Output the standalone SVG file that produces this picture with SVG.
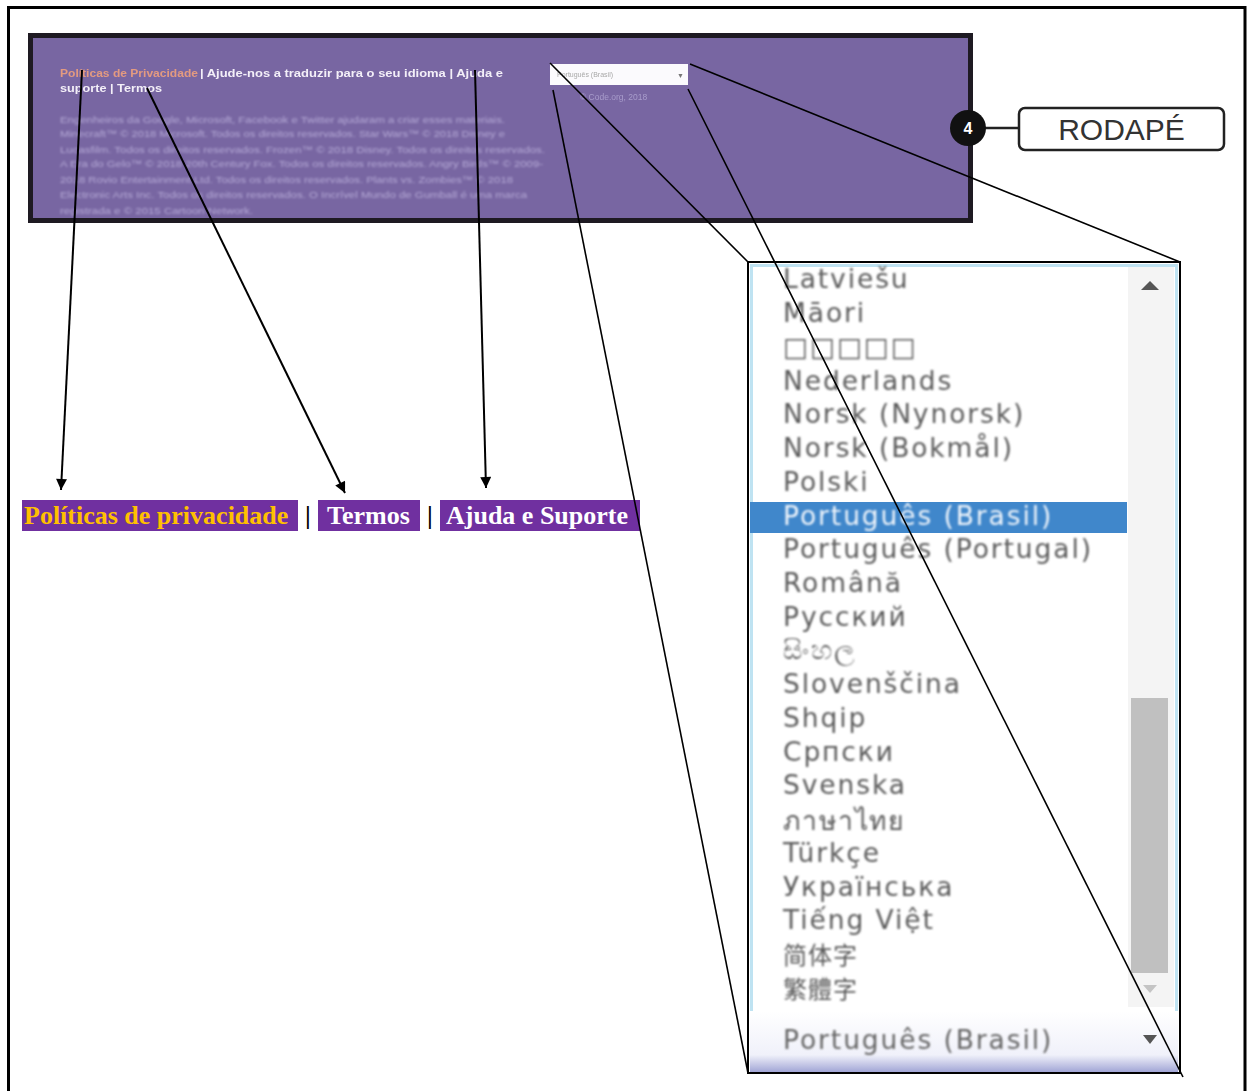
<svg xmlns="http://www.w3.org/2000/svg" width="1249" height="1091" viewBox="0 0 1249 1091">
  <style>
    .sans { font-family: "Liberation Sans", Arial, sans-serif; }
    .serif { font-family: "Liberation Serif", "Times New Roman", serif; font-weight: bold; }
    .hdr { font-size: 10.5px; font-weight: bold; fill: #f3eff8; }
    .para { font-size: 9.5px; fill: #b5a9d6; }
    .item { font-family: "DejaVu Sans", "Noto Sans", "Noto Sans CJK SC", sans-serif; font-size: 26.5px; letter-spacing: 1.9px; fill: #5b5b5b; }
    .cjk { font-size: 24px; letter-spacing: 1px; }
    .legend-bg { fill: #7030a0; }
    .legend-txt { font-size: 26px; fill: #ffffff; }
    .conn { stroke: #000; stroke-width: 1.6; fill: none; }
    .arrow { stroke: #000; stroke-width: 2; fill: none; marker-end: url(#arrowhead); }
  </style>
  <defs>
    <marker id="arrowhead" viewBox="0 0 10 10" refX="10" refY="5" markerWidth="7.5" markerHeight="5.5" orient="auto" markerUnits="strokeWidth">
      <path d="M0,0 L10,5 L0,10 z" fill="#000"/>
    </marker>
    <filter id="soft" x="-5%" y="-5%" width="110%" height="110%">
      <feGaussianBlur stdDeviation="0.6"/>
    </filter>
    <filter id="softer" x="-5%" y="-5%" width="110%" height="110%">
      <feGaussianBlur stdDeviation="0.8"/>
    </filter>
    <linearGradient id="selectFoot" x1="0" y1="0" x2="0" y2="1">
      <stop offset="0" stop-color="#ffffff"/>
      <stop offset="0.72" stop-color="#f0f1fa"/>
      <stop offset="1" stop-color="#a2a6d6"/>
    </linearGradient>
  </defs>

  <!-- page frame -->
  <path d="M8.5,1091 V7.5 H1245 V1091" fill="none" stroke="#000" stroke-width="3"/>

  <!-- site footer screenshot -->
  <g id="footer-panel">
    <rect x="30.5" y="35.5" width="940" height="185" fill="#7866a2" stroke="#1e1a22" stroke-width="5"/>
    <g class="sans" filter="url(#soft)">
      <text x="60" y="77" class="hdr" style="fill:#e39a80" textLength="138" lengthAdjust="spacingAndGlyphs">Políticas de Privacidade</text>
      <text x="200" y="77" class="hdr" textLength="303" lengthAdjust="spacingAndGlyphs"> | Ajude-nos a traduzir para o seu idioma | Ajuda e</text>
      <text x="60" y="92" class="hdr" textLength="102" lengthAdjust="spacingAndGlyphs">suporte | Termos</text>
    </g>
    <g class="sans" filter="url(#softer)">
      <text x="60" y="123" class="para" textLength="445" lengthAdjust="spacingAndGlyphs">Engenheiros da Google, Microsoft, Facebook e Twitter ajudaram a criar esses materiais.</text>
      <text x="60" y="137" class="para" textLength="445" lengthAdjust="spacingAndGlyphs">Minecraft™ © 2018 Microsoft. Todos os direitos reservados. Star Wars™ © 2018 Disney e</text>
      <text x="60" y="153" class="para" textLength="485" lengthAdjust="spacingAndGlyphs">Lucasfilm. Todos os direitos reservados. Frozen™ © 2018 Disney. Todos os direitos reservados.</text>
      <text x="60" y="167" class="para" textLength="483" lengthAdjust="spacingAndGlyphs">A Era do Gelo™ © 2018 20th Century Fox. Todos os direitos reservados. Angry Birds™ © 2009-</text>
      <text x="60" y="183" class="para" textLength="453" lengthAdjust="spacingAndGlyphs">2018 Rovio Entertainment Ltd. Todos os direitos reservados. Plants vs. Zombies™ © 2018</text>
      <text x="60" y="198" class="para" textLength="467" lengthAdjust="spacingAndGlyphs">Electronic Arts Inc. Todos os direitos reservados. O Incrível Mundo de Gumball é uma marca</text>
      <text x="60" y="214" class="para" textLength="193" lengthAdjust="spacingAndGlyphs">registrada e © 2015 Cartoon Network.</text>
    </g>
  </g>

  <!-- compact language selector inside the footer -->
  <g id="lang-select-small" class="sans" filter="url(#soft)">
    <rect x="550" y="64" width="138" height="21" fill="#fbfafd"/>
    <text x="557" y="77" font-size="7" fill="#a8a8a8">Português (Brasil)</text>
    <text x="677" y="78" font-size="7" fill="#777">▼</text>
    <text x="580" y="100" font-size="8.5" fill="#a89ccb">© Code.org, 2018</text>
  </g>

  <!-- numbered callout -->
  <g id="badge-4">
    <line x1="985" y1="128" x2="1019" y2="128" stroke="#222" stroke-width="2.5"/>
    <circle cx="968" cy="128" r="18" fill="#111"/>
    <text x="968" y="134" text-anchor="middle" class="sans" font-size="16" font-weight="bold" fill="#fff">4</text>
  </g>
  <g id="rodape-label">
    <rect x="1019" y="108" width="205" height="42" rx="6" fill="#fff" stroke="#222" stroke-width="2.5"/>
    <text x="1121.5" y="140" text-anchor="middle" class="sans" font-size="30" fill="#333">RODAPÉ</text>
  </g>

  <!-- expanded language list -->
  <g id="lang-list">
    <rect x="749" y="263" width="430" height="810" fill="#fff"/>
    <rect x="751.5" y="265.5" width="425" height="805" fill="none" stroke="#bfe3f2" stroke-width="3"/>
    <!-- scrollbar -->
    <rect x="1128" y="267" width="46" height="740" fill="#f4f4f4"/>
    <rect x="1131" y="698" width="37" height="275" fill="#c0c0c0" filter="url(#soft)"/>
    <path d="M1141,290 L1150,281 L1159,290 z" fill="#555" filter="url(#soft)"/>
    <path d="M1143,985 L1150,993 L1157,985 z" fill="#c4c4c4" filter="url(#soft)"/>
    <!-- selected row -->
    <rect x="750" y="502" width="377" height="31" fill="#3f87cb" filter="url(#soft)"/>
    <g filter="url(#softer)">
      <text x="783" y="288" class="item">Latviešu</text>
      <text x="783" y="322" class="item">Māori</text>
      <text x="783" y="356" class="item" font-size="22">□□□□□</text>
      <text x="783" y="390" class="item">Nederlands</text>
      <text x="783" y="423" class="item">Norsk (Nynorsk)</text>
      <text x="783" y="457" class="item">Norsk (Bokmål)</text>
      <text x="783" y="491" class="item">Polski</text>
      <text x="783" y="525" class="item" style="fill:#eef4fb">Português (Brasil)</text>
      <text x="783" y="558" class="item">Português (Portugal)</text>
      <text x="783" y="592" class="item">Română</text>
      <text x="783" y="626" class="item">Русский</text>
      <text x="783" y="659" class="item" font-size="20">සිංහල</text>
      <text x="783" y="693" class="item">Slovenščina</text>
      <text x="783" y="727" class="item">Shqip</text>
      <text x="783" y="761" class="item">Српски</text>
      <text x="783" y="794" class="item">Svenska</text>
      <text x="783" y="830" class="item">ภาษาไทย</text>
      <text x="783" y="862" class="item">Türkçe</text>
      <text x="783" y="896" class="item">Українська</text>
      <text x="783" y="929" class="item">Tiếng Việt</text>
      <text x="783" y="964" class="item cjk" style="font-family:'Noto Sans CJK SC', sans-serif">简体字</text>
      <text x="783" y="998" class="item cjk" style="font-family:'Noto Sans CJK TC', sans-serif">繁體字</text>
    </g>
    <!-- closed select row -->
    <rect x="750" y="1011" width="428" height="61" fill="url(#selectFoot)"/>
    <line x1="750" y1="1010" x2="1178" y2="1010" stroke="#8796b0" stroke-width="3" filter="url(#soft)"/>
    <text x="783" y="1049" class="item" style="fill:#666" filter="url(#softer)">Português (Brasil)</text>
    <path d="M1143,1035 L1150,1044 L1157,1035 z" fill="#555" filter="url(#soft)"/>
    <rect x="748" y="262" width="432" height="811" fill="none" stroke="#000" stroke-width="2"/>
  </g>

  <!-- link legend -->
  <g id="legend-politicas">
    <rect x="22" y="500" width="276" height="31" class="legend-bg"/>
    <text x="24" y="524" class="serif legend-txt" style="fill:#ffc000">Políticas de privacidade</text>
  </g>
  <text x="305" y="524" class="serif" font-size="26" fill="#000">|</text>
  <g id="legend-termos">
    <rect x="318" y="500" width="102" height="31" class="legend-bg"/>
    <text x="327" y="524" class="serif legend-txt">Termos</text>
  </g>
  <text x="427" y="524" class="serif" font-size="26" fill="#000">|</text>
  <g id="legend-ajuda">
    <rect x="440" y="500" width="200" height="31" class="legend-bg"/>
    <text x="446" y="524" class="serif legend-txt">Ajuda e Suporte</text>
  </g>

  <!-- connectors -->
  <g id="connectors">
    <line x1="82" y1="70" x2="61" y2="490" class="arrow"/>
    <line x1="147" y1="88" x2="345" y2="493" class="arrow"/>
    <line x1="475" y1="70" x2="486" y2="488" class="arrow"/>
    <line x1="550" y1="63" x2="748" y2="262" class="conn"/>
    <line x1="690" y1="64" x2="1180" y2="262" class="conn"/>
    <line x1="553" y1="90" x2="748" y2="1073" class="conn"/>
    <line x1="688" y1="89" x2="1183" y2="1077" class="conn"/>
  </g>
</svg>
